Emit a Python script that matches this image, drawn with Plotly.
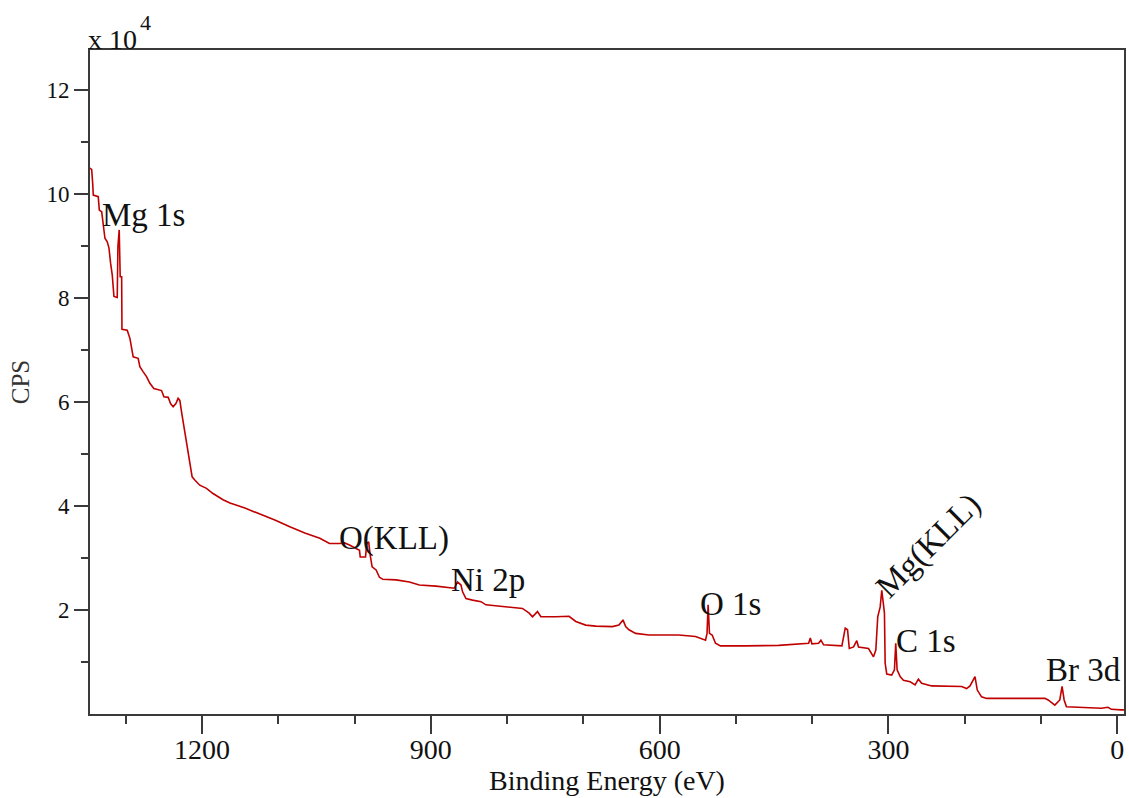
import plotly.graph_objects as go

# Binding energy (eV) and intensity (CPS, in units of 1e4)
binding_energy = [
    1346.9, 1344.7, 1343.4, 1342.6, 1336.1, 1334.7, 1331.6, 1329.5, 1327.3, 1324.3,
    1322.0, 1319.9, 1317.7, 1315.5, 1311.2, 1310.3, 1308.6, 1307.3, 1305.4, 1305.0,
    1298.1, 1294.5, 1292.4, 1290.3, 1283.8, 1281.5, 1277.1, 1272.8, 1268.4, 1263.2,
    1253.1, 1250.0, 1244.4, 1241.3, 1237.9, 1234.3, 1231.4, 1229.1, 1226.9, 1223.9,
    1220.4, 1216.0, 1213.0, 1209.5, 1203.0, 1194.2, 1185.6, 1172.5, 1163.4, 1143.8,
    1124.2, 1104.6, 1084.9, 1065.3, 1045.6, 1032.9, 1019.7, 1013.2, 1006.7, 1002.3,
    993.6, 992.6, 985.7, 984.0, 981.5, 979.6, 977.0, 971.8, 967.4, 963.1,
    945.6, 928.2, 915.1, 893.3, 882.4, 875.8, 869.3, 865.0, 860.5, 858.4,
    854.0, 845.3, 834.3, 827.8, 814.7, 797.3, 779.9, 771.1, 766.8, 760.2,
    755.8, 736.2, 718.8, 710.0, 697.0, 683.8, 662.1, 653.4, 648.1, 644.6,
    640.3, 631.5, 614.1, 596.7, 574.8, 553.0, 544.4, 539.9, 537.9, 536.5,
    534.7, 531.2, 526.8, 520.3, 487.5, 444.0, 404.7, 402.5, 400.4, 391.6,
    388.6, 385.1, 361.1, 356.7, 353.7, 351.4, 345.8, 341.6, 339.3, 326.2,
    319.7, 316.6, 314.1, 310.9, 308.8, 306.6, 305.3, 304.4, 302.3, 295.8,
    292.2, 290.5, 288.7, 284.7, 280.4, 271.6, 265.1, 260.8, 256.5, 243.4,
    204.1, 197.6, 193.1, 186.6, 183.6, 178.0, 171.4, 138.7, 95.0, 90.7,
    81.9, 75.4, 72.4, 69.7, 66.7, 51.4, 21.0, 12.2, 7.8, -5.2, -8.7,
]
cps_e4 = [
    10.50, 10.47, 10.21, 9.98, 9.95, 9.69, 9.66, 9.34, 9.15, 9.08,
    8.96, 8.67, 8.44, 8.03, 8.01, 8.99, 9.31, 8.41, 8.41, 7.40,
    7.38, 7.22, 7.00, 6.87, 6.84, 6.68, 6.58, 6.49, 6.36, 6.26,
    6.22, 6.10, 6.09, 5.97, 5.91, 5.97, 6.07, 6.03, 5.81, 5.53,
    5.17, 4.85, 4.56, 4.50, 4.40, 4.34, 4.24, 4.12, 4.06, 3.96,
    3.85, 3.73, 3.60, 3.48, 3.38, 3.28, 3.28, 3.29, 3.25, 3.22,
    3.15, 3.02, 3.02, 3.28, 3.31, 3.06, 2.83, 2.77, 2.63, 2.59,
    2.58, 2.54, 2.48, 2.46, 2.44, 2.42, 2.42, 2.54, 2.48, 2.35,
    2.22, 2.19, 2.16, 2.10, 2.08, 2.06, 2.03, 1.94, 1.87, 1.97,
    1.87, 1.87, 1.88, 1.78, 1.71, 1.69, 1.68, 1.71, 1.81, 1.68,
    1.62, 1.55, 1.52, 1.52, 1.52, 1.49, 1.44, 1.42, 1.55, 2.10,
    1.55, 1.52, 1.36, 1.31, 1.31, 1.32, 1.36, 1.46, 1.35, 1.36,
    1.42, 1.33, 1.31, 1.65, 1.62, 1.26, 1.29, 1.41, 1.29, 1.26,
    1.10, 1.23, 1.87, 2.06, 2.38, 2.06, 1.94, 0.98, 0.77, 0.75,
    0.85, 1.36, 0.85, 0.72, 0.65, 0.62, 0.56, 0.67, 0.59, 0.54,
    0.53, 0.49, 0.54, 0.72, 0.46, 0.33, 0.30, 0.30, 0.30, 0.27,
    0.17, 0.27, 0.53, 0.27, 0.14, 0.13, 0.11, 0.13, 0.09, 0.08, 0.08,
]

# Peak labels
peak_labels = ["Mg 1s", "O(KLL)", "Ni 2p", "O 1s", "Mg(KLL)", "C 1s", "Br 3d"]
label_energy = [1276.3, 947.7, 825.4, 507.5, 247.7, 251.0, 44.2]
label_cps = [9.6, 3.37, 2.58, 2.125, 3.25, 1.40, 0.846]
label_angle = [0, 0, 0, 0, -45, 0, 0]

x_major = [1200, 900, 600, 300, 0]
x_minor = [1300, 1100, 1000, 800, 700, 500, 400, 200, 100]
y_major = [2, 4, 6, 8, 10, 12]
y_minor = [1, 3, 5, 7, 9, 11]

SERIF = "Times New Roman, Liberation Serif, serif"
AXIS = "#3a3a3a"

fig = go.Figure()
fig.add_trace(go.Scatter(
    x=binding_energy, y=cps_e4, mode="lines",
    line=dict(color="#c00000", width=1.6), showlegend=False,
))

for t, e, c, a in zip(peak_labels, label_energy, label_cps, label_angle):
    fig.add_annotation(x=e, y=c, text=t, showarrow=False, textangle=a,
                       xanchor="center", yanchor="middle",
                       font=dict(family=SERIF, size=33, color="#111111"))

fig.add_annotation(xref="paper", yref="paper", x=0, y=1, xanchor="left",
                   yanchor="bottom", yshift=-7, xshift=-4, showarrow=False,
                   text="x 10",
                   font=dict(family=SERIF, size=28, color="#111111"))
fig.add_annotation(xref="paper", yref="paper", x=0, y=1, xanchor="left",
                   yanchor="bottom", yshift=13, xshift=48, showarrow=False,
                   text="4",
                   font=dict(family=SERIF, size=22, color="#111111"))

fig.update_layout(
    width=1129, height=798,
    margin=dict(l=90, r=3, t=50, b=84),
    paper_bgcolor="white", plot_bgcolor="white",
    xaxis=dict(
        range=[1346.9, -8.77], showgrid=False, zeroline=False,
        showline=True, linecolor=AXIS, linewidth=2, mirror=True,
        tickmode="array", tickvals=x_major, ticktext=[str(v) for v in x_major],
        ticks="outside", ticklen=18, tickwidth=2, tickcolor=AXIS,
        ticklabelstandoff=-9,
        tickfont=dict(family=SERIF, size=28, color="#111111"),
        minor=dict(tickmode="array", tickvals=x_minor, ticks="outside",
                   ticklen=8, tickwidth=2, tickcolor=AXIS),
        title=dict(text="Binding Energy (eV)", standoff=4,
                   font=dict(family=SERIF, size=28, color="#111111")),
    ),
    yaxis=dict(
        range=[0, 12.77], showgrid=False, zeroline=False,
        showline=True, linecolor=AXIS, linewidth=2, mirror=True,
        tickmode="array", tickvals=y_major, ticktext=[str(v) for v in y_major],
        ticks="outside", ticklen=14, tickwidth=2, tickcolor=AXIS,
        tickfont=dict(family=SERIF, size=23, color="#111111"),
        minor=dict(tickmode="array", tickvals=y_minor, ticks="outside",
                   ticklen=7, tickwidth=2, tickcolor=AXIS),
        title=dict(text="CPS", standoff=10,
                   font=dict(family=SERIF, size=25, color="#333333")),
    ),
)

fig.write_html("out.html", config={"displayModeBar": False},
               post_script="document.body.style.margin='0';")
